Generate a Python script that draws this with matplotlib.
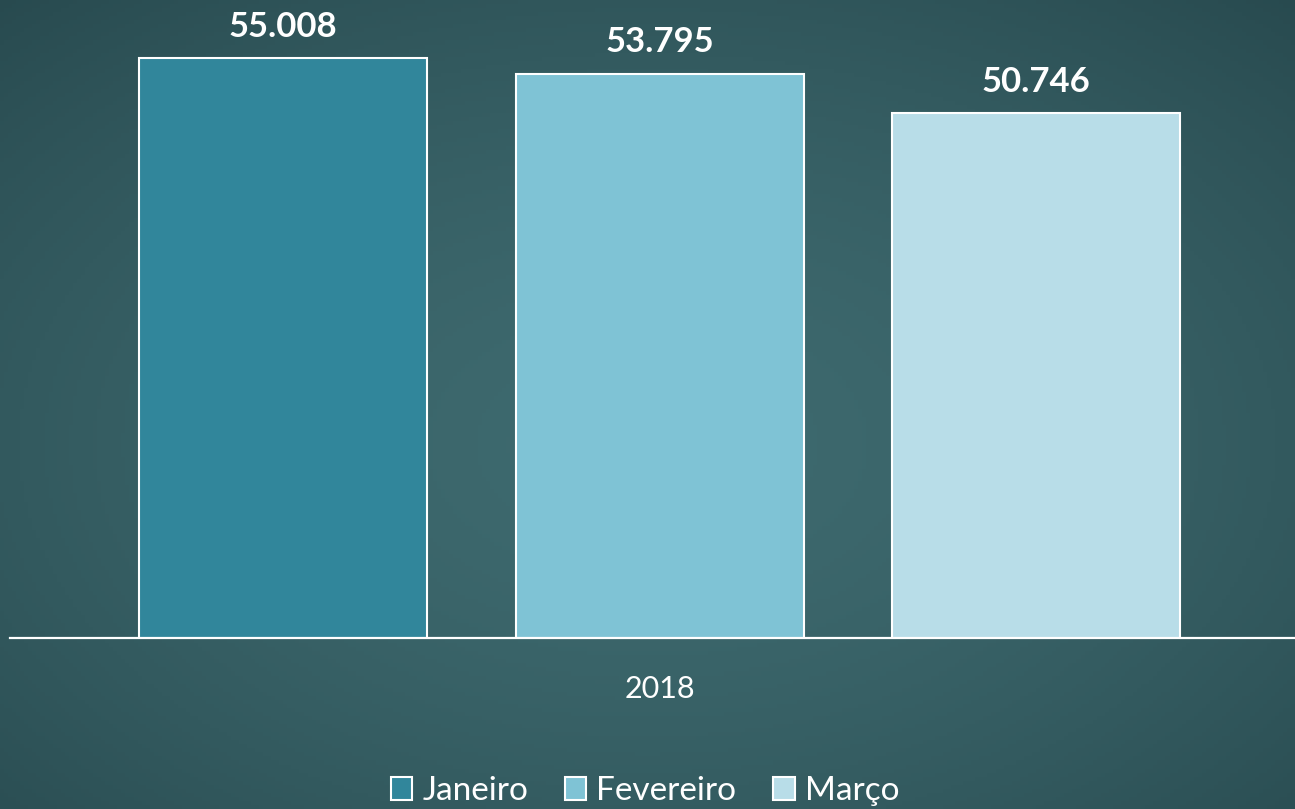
import matplotlib
matplotlib.use("Agg")
import matplotlib.pyplot as plt
from matplotlib.patches import Patch
import numpy as np

# data
series = ["Janeiro", "Fevereiro", "Março"]
values = [55.008, 53.795, 50.746]
value_labels = ["55.008", "53.795", "50.746"]
category = "2018"

# style
colors = ["#31869b", "#7fc3d5", "#b8dde8"]
plt.rcParams["font.family"] = ["Lato", "DejaVu Sans"]

fig = plt.figure(figsize=(12.95, 8.09), dpi=100)

# chalkboard-ish background (simple vignette)
bg = fig.add_axes([0, 0, 1, 1], zorder=-10)
yy, xx = np.mgrid[0:1:200j, 0:1:320j]
r = np.clip(np.sqrt(((xx - 0.5) / 0.75) ** 2 + ((yy - 0.45) / 0.75) ** 2), 0, 1)
c_center = np.array([62, 106, 111]) / 255
c_edge = np.array([40, 74, 79]) / 255
img = c_center + (c_edge - c_center) * (r[..., None] ** 1.6)
bg.imshow(img, aspect="auto", extent=[0, 1, 0, 1], origin="lower")
bg.axis("off")

# main axes: baseline at 638 px, spans x 10..1295
ax = fig.add_axes([10 / 1295, (809 - 638) / 809, 1285 / 1295, 638 / 809])
ax.set_facecolor("none")

x = np.arange(len(series))
bars = ax.bar(x, values, width=0.765, color=colors, edgecolor="white",
              linewidth=1.5, bottom=0)
ax.set_ylim(10, 59.52)
ax.set_xlim(-0.726, 2.687)

ax.bar_label(bars, labels=value_labels, padding=11, color="white",
             fontsize=25, fontweight="bold")

for s in ["top", "left", "right"]:
    ax.spines[s].set_visible(False)
ax.spines["bottom"].set_color("white")
ax.spines["bottom"].set_linewidth(1.6)
ax.set_yticks([])
ax.set_xticks([1])
ax.set_xticklabels([category], color="white", fontsize=22)
ax.tick_params(axis="x", length=0, pad=27)

handles = [Patch(facecolor=c, edgecolor="white", linewidth=1.5) for c in colors]
fig.legend(handles, series, loc="center", bbox_to_anchor=(0.498, 0.022),
           ncol=3, frameon=False, fontsize=24, labelcolor="white",
           handlelength=0.65, handleheight=0.65, handletextpad=0.3,
           columnspacing=1.1)

fig.savefig("out.png", dpi=100)
